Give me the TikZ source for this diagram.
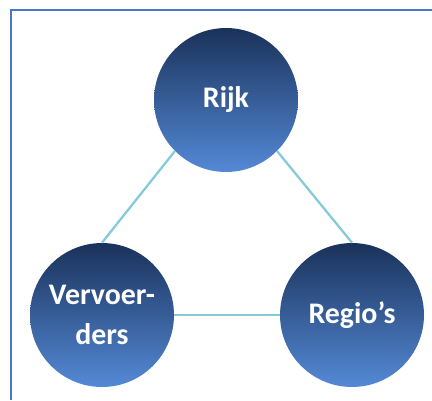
\documentclass[tikz,border=0pt]{standalone}
\usepackage{fontspec}
\setmainfont{Carlito}
\usetikzlibrary{shapes}

\definecolor{navytop}{RGB}{26,50,90}
\definecolor{bluebottom}{RGB}{84,137,214}
\definecolor{linkcyan}{RGB}{132,202,216}
\definecolor{frameblue}{RGB}{72,118,204}

\begin{document}
\begin{tikzpicture}[x=0.02cm, y=0.02cm,
    party/.style={circle, minimum size=2.88cm, inner sep=0pt,
        top color=navytop, bottom color=bluebottom, draw=none,
        text=white, align=center,
        font=\fontsize{17}{23}\selectfont\bfseries},
    link/.style={draw=linkcyan, line width=1.3pt},
    frame/.style={draw=frameblue, line width=1.2pt}]
    \useasboundingbox (0,0) rectangle (432,400);
    \draw[frame] (11,0) -- (11,390) -- (432,390);
    \node[party] (rijk) at (226,300) {Rijk};
    \node[party] (vervoerders) at (102,85) {Vervoer-\\ders};
    \node[party] (regios) at (352,85) {Regio’s};
    \draw[link] (rijk.south west) -- (vervoerders.north);
    \draw[link] (rijk.south east) -- (regios.north);
    \draw[link] (vervoerders.east) -- (regios.west);
% three parties, linked in a triangle
\end{tikzpicture}
\end{document}
